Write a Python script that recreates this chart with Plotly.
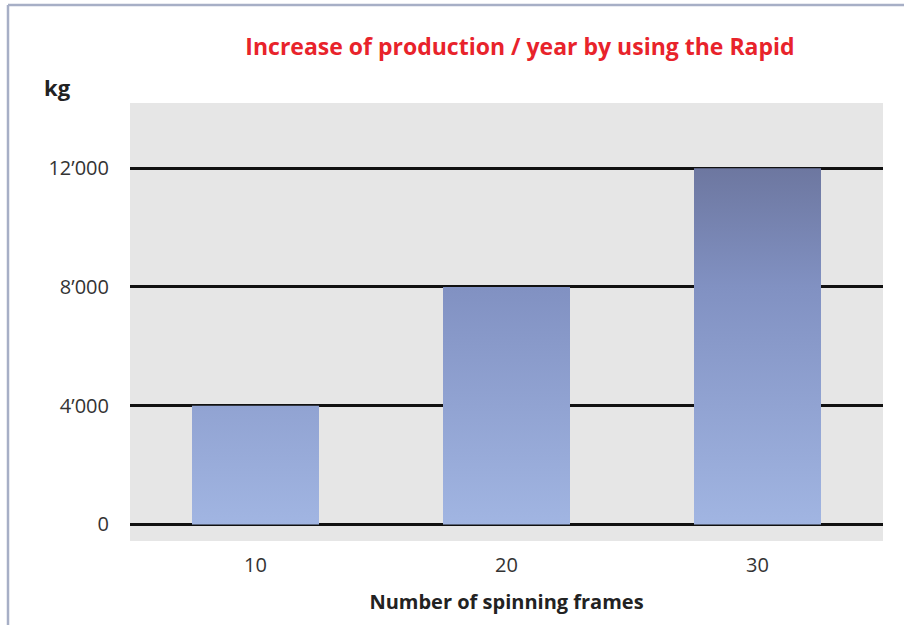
import plotly.graph_objects as go

# ---- data ----
frames = [10, 20, 30]                 # number of spinning frames
increase_kg = [4000, 8000, 12000]     # increase of production / year (kg)
y_ticks = [0, 4000, 8000, 12000]
y_tick_labels = ["0", "4’000", "8’000", "12’000"]

title_text = "Increase of production / year by using the Rapid"
x_title = "Number of spinning frames"
y_unit = "kg"

half_w = 2.53  # half bar width in x units

fig = go.Figure()

grad = [[0.0, "#a1b5e2"], [0.667, "#8191c2"], [1.0, "#6d77a0"]]
for xv, yv in zip(frames, increase_kg):
    fig.add_trace(go.Scatter(
        x=[xv - half_w, xv - half_w, xv + half_w, xv + half_w, xv - half_w],
        y=[0, yv, yv, 0, 0],
        mode="lines",
        fill="toself",
        fillgradient=dict(type="vertical", colorscale=grad, start=0, stop=max(increase_kg)),
        line=dict(width=0),
        showlegend=False,
        hoverinfo="skip",
    ))

font_family = "Open Sans, Noto Sans, sans-serif"

fig.update_layout(
    width=904, height=625,
    margin=dict(l=130, r=21, t=103, b=84),
    paper_bgcolor="white",
    plot_bgcolor="#e6e6e6",
    showlegend=False,
    font=dict(family=font_family, color="#333333", size=20),
    title=dict(
        text="<b>" + title_text + "</b>",
        font=dict(family=font_family, size=23, color="#e8232b"),
        x=(520 / 904), xanchor="center", y=1 - 47 / 625, yanchor="middle",
    ),
    xaxis=dict(
        range=[5, 35],
        tickvals=frames,
        ticktext=[str(f) for f in frames],
        showgrid=False, zeroline=False, showline=False,
        ticks="", ticklabelstandoff=10,
        tickfont=dict(size=20, color="#333333"),
        title=dict(text="<b>" + x_title + "</b>", font=dict(size=20, color="#222222"), standoff=17),
        fixedrange=True,
    ),
    yaxis=dict(
        range=[-560, 14200],
        tickvals=y_ticks,
        ticktext=y_tick_labels,
        showgrid=True, gridcolor="#111111", gridwidth=2.5,
        zeroline=False, showline=False,
        ticks="", ticklabelstandoff=20,
        tickfont=dict(size=20, color="#333333"),
        fixedrange=True,
    ),
)

# "kg" unit label
fig.add_annotation(
    text="<b>" + y_unit + "</b>", xref="paper", yref="paper",
    x=(57 - 130) / 753, y=(541 - 87) / 438, xanchor="center", yanchor="middle",
    showarrow=False, font=dict(family=font_family, size=22, color="#222222"),
)

# frame lines (left and top)
frame_col = "#a7afc6"
fig.add_shape(type="line", xref="paper", yref="paper",
              x0=(8 - 130) / 753, x1=(8 - 130) / 753,
              y0=(541 - 625) / 438, y1=(541 - 5) / 438,
              line=dict(color=frame_col, width=2.5), layer="above")
fig.add_shape(type="line", xref="paper", yref="paper",
              x0=(8 - 130) / 753, x1=(904 - 130) / 753,
              y0=(541 - 5) / 438, y1=(541 - 5) / 438,
              line=dict(color=frame_col, width=2.5), layer="above")

fig.write_html(
    "out.html",
    config={"displayModeBar": False},
    post_script="document.body.style.margin='0';document.body.style.overflow='hidden';",
)
